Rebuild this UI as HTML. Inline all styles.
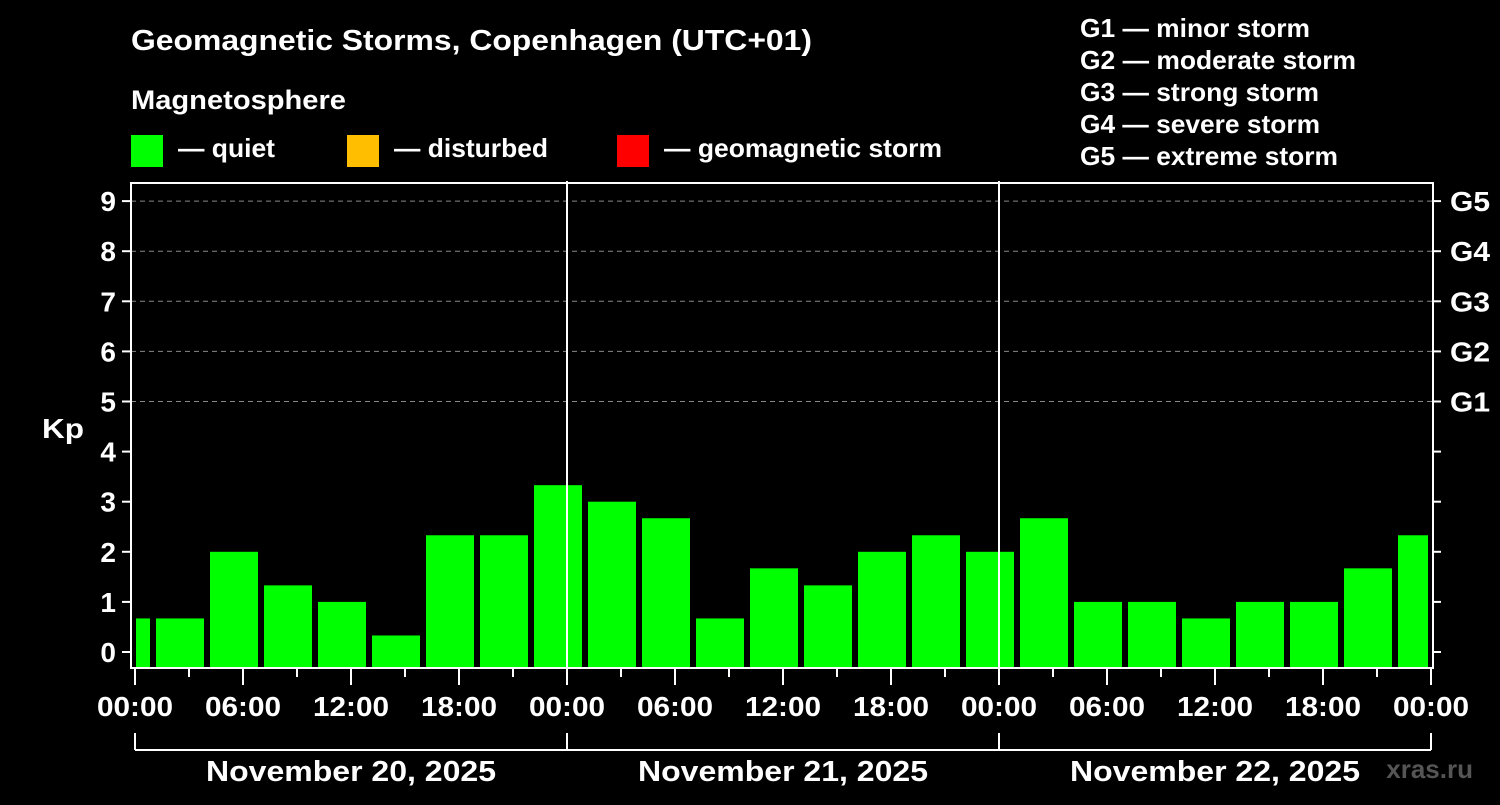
<!DOCTYPE html>
<html><head><meta charset="utf-8"><style>
body{margin:0;background:#000;width:1500px;height:800px;overflow:hidden}
svg text{font-family:"Liberation Sans",sans-serif;font-weight:bold;fill:#fff}
</style></head><body>
<svg id="c" width="1500" height="800">
<text x="131" y="50" font-size="29" textLength="681" lengthAdjust="spacingAndGlyphs">Geomagnetic Storms, Copenhagen (UTC+01)</text>
<text x="131" y="109" font-size="27" textLength="215" lengthAdjust="spacingAndGlyphs">Magnetosphere</text>
<rect x="131" y="135" width="32" height="32" fill="#00ff00"/>
<text x="178" y="157" font-size="26" textLength="97" lengthAdjust="spacingAndGlyphs">— quiet</text>
<rect x="347" y="135" width="32" height="32" fill="#ffbf00"/>
<text x="394" y="157" font-size="26" textLength="154" lengthAdjust="spacingAndGlyphs">— disturbed</text>
<rect x="617" y="135" width="32" height="32" fill="#ff0000"/>
<text x="664" y="157" font-size="26" textLength="278" lengthAdjust="spacingAndGlyphs">— geomagnetic storm</text>
<g font-size="26">
<text x="1080" y="37" textLength="230" lengthAdjust="spacingAndGlyphs">G1 — minor storm</text>
<text x="1080" y="69" textLength="276" lengthAdjust="spacingAndGlyphs">G2 — moderate storm</text>
<text x="1080" y="101" textLength="239" lengthAdjust="spacingAndGlyphs">G3 — strong storm</text>
<text x="1080" y="133" textLength="240" lengthAdjust="spacingAndGlyphs">G4 — severe storm</text>
<text x="1080" y="165" textLength="258" lengthAdjust="spacingAndGlyphs">G5 — extreme storm</text>
</g>
<text x="42" y="438" font-size="28" textLength="42" lengthAdjust="spacingAndGlyphs">Kp</text>
<text x="1473" y="778" font-size="26" style="fill:#555" text-anchor="end">xras.ru</text>
<g id="g"></g>
</svg>
<script>
const kpValues=[0.67,0.67,2,1.33,1,0.33,2.33,2.33,3.33,3,2.67,0.67,1.67,1.33,2,2.33,2,2.67,1,1,0.67,1,1,1.67,2.33];
const dayLabels=["November 20, 2025","November 21, 2025","November 22, 2025"];
const yTicks=[0,1,2,3,4,5,6,7,8,9];
const gLabels=["G1","G2","G3","G4","G5"];
const hourLabels=["00:00","06:00","12:00","18:00"];
const NS="http://www.w3.org/2000/svg",g=document.getElementById('g');
const X0=135,PXH=18,L=131,R=1433,T=183,B=668;
const xs=h=>X0+h*PXH, ys=v=>652-v*50.1;
function mk(t,a,txt){const e=document.createElementNS(NS,t);for(const k in a)e.setAttribute(k,a[k]);if(txt!=null)e.textContent=txt;g.appendChild(e);return e;}
[5,6,7,8,9].forEach(v=>{const e=mk('line',{x1:L,x2:R,y1:ys(v),y2:ys(v),stroke:'#888','stroke-dasharray':'5,4'});

});
kpValues.forEach((v,i)=>{const h0=-2+3*i;let x1=Math.max(xs(h0)+3,X0+1),x2=Math.min(xs(h0+3)-3,xs(72)-3);
const col=v>=5?'#ff0000':v>=4?'#ffbf00':'#00ff00';
const e=mk('rect',{x:x1,y:ys(v),width:x2-x1,height:B-ys(v),fill:col});

});
[1,2].forEach(d=>{const e=mk('line',{x1:xs(24*d),x2:xs(24*d),y1:181,y2:B,stroke:'#fff','stroke-width':2});

});
const f=mk('rect',{x:L,y:T,width:R-L,height:B-T,fill:'none',stroke:'#fff','stroke-width':2});


yTicks.forEach(v=>{mk('line',{x1:122,x2:L,y1:ys(v),y2:ys(v),stroke:'#fff','stroke-width':2});
mk('line',{x1:R,x2:1441,y1:ys(v),y2:ys(v),stroke:'#fff','stroke-width':2});
const t=mk('text',{x:116,y:ys(v)+10,'font-size':28,'text-anchor':'end'},String(v));

});
gLabels.forEach((s,i)=>{const t=mk('text',{x:1450,y:ys(5+i)+10,'font-size':28,textLength:40,lengthAdjust:'spacingAndGlyphs'},s);

});
for(let h=0;h<=72;h+=3){const maj=h%6==0;mk('line',{x1:xs(h),x2:xs(h),y1:B,y2:B+(maj?17:9),stroke:'#fff','stroke-width':2});
if(maj){const t=mk('text',{x:xs(h)-38,y:716,'font-size':28,textLength:76,lengthAdjust:'spacingAndGlyphs'},hourLabels[(h/6)%4]);

}}
mk('line',{x1:xs(0),x2:xs(72),y1:750,y2:750,stroke:'#fff','stroke-width':2});
for(let d=0;d<=3;d++)mk('line',{x1:xs(24*d),x2:xs(24*d),y1:733,y2:750,stroke:'#fff','stroke-width':2});
dayLabels.forEach((s,d)=>{const t=mk('text',{x:xs(24*d+12)-145,y:781,'font-size':29,textLength:290,lengthAdjust:'spacingAndGlyphs'},s);

});
</script>
</body></html>
